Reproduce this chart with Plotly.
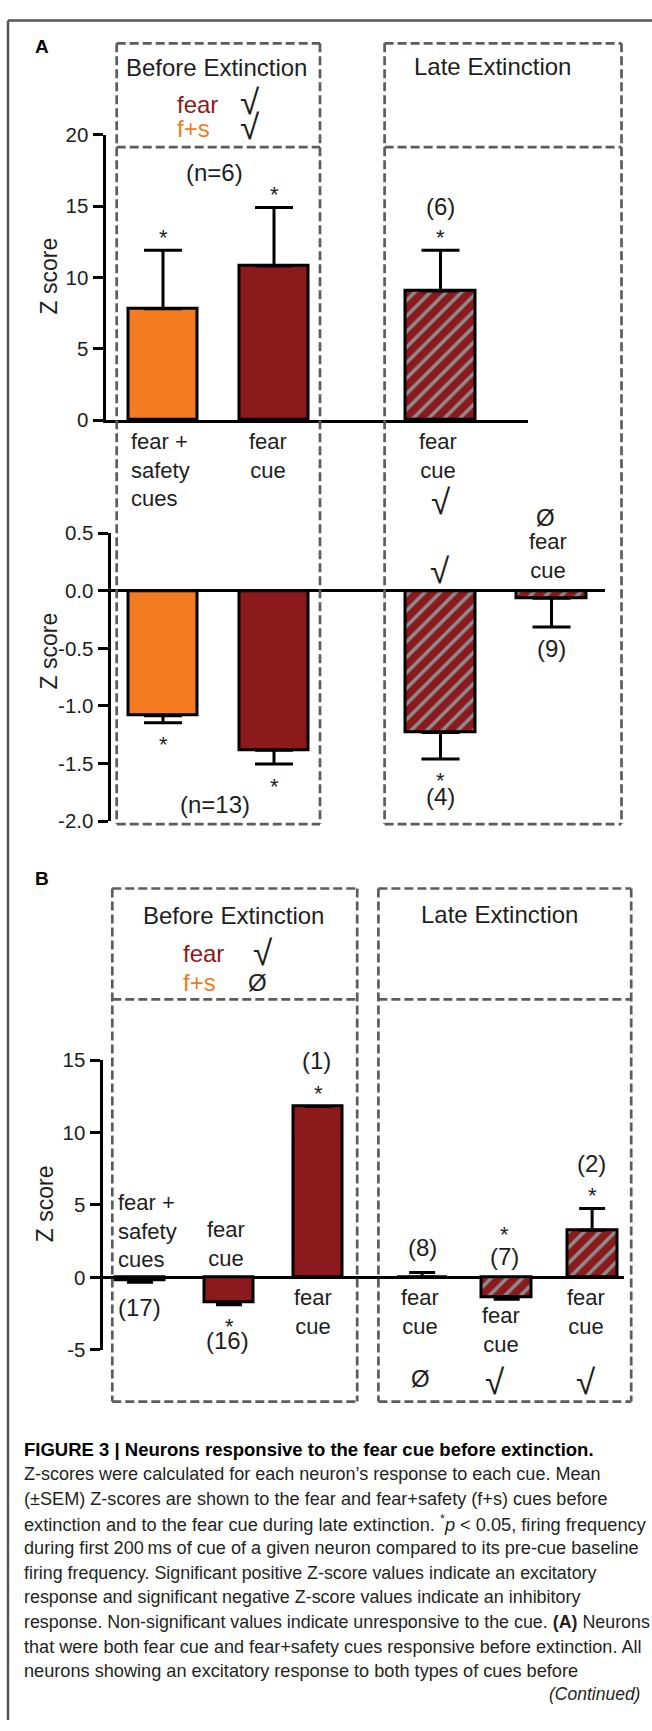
import re
import plotly.graph_objects as go

# ------------------------------------------------------------------ data
A_EXC_LABELS = ["fear +<br>safety<br>cues", "fear<br>cue", "fear<br>cue"]
A_EXC_Z = [7.8, 10.8, 9.05]
A_EXC_SEM = [4.1, 4.1, 2.85]
A_INH_Z = [-1.085, -1.385, -1.23, -0.065]
A_INH_SEM = [0.06, 0.12, 0.23, 0.25]
A_INH_SIG = [True, True, True, False]
B_LABELS = ["fear +<br>safety<br>cues", "fear<br>cue", "fear<br>cue",
            "fear<br>cue", "fear<br>cue", "fear<br>cue"]
B_Z = [-0.22, -1.75, 11.8, 0.03, -1.35, 3.25]
B_SEM = [0.12, 0.15, 0.0, 0.31, 0.17, 1.5]
B_N = ["(17)", "(16)", "(1)", "(8)", "(7)", "(2)"]
B_SIG = [False, True, True, False, True, True]
A_TOP_TICKS = [0, 5, 10, 15, 20]
A_BOT_TICKS = [0.5, 0.0, -0.5, -1.0, -1.5, -2.0]
B_TICKS = [-5, 0, 5, 10, 15]

CAPTION_TITLE = "<b>FIGURE 3 | Neurons responsive to the fear cue before extinction.</b>"
CAPTION = [
    "Z-scores were calculated for each neuron\u2019s response to each cue. Mean",
    "(\u00b1SEM) Z-scores are shown to the fear and fear+safety (f+s) cues before",
    "extinction and to the fear cue during late extinction. <sup>*</sup><i>p</i> &lt; 0.05, firing frequency",
    "during first 200\u2009ms of cue of a given neuron compared to its pre-cue baseline",
    "firing frequency. Significant positive Z-score values indicate an excitatory",
    "response and significant negative Z-score values indicate an inhibitory",
    "response. Non-significant values indicate unresponsive to the cue. <b>(A)</b> Neurons",
    "that were both fear cue and fear+safety cues responsive before extinction. All",
    "neurons showing an excitatory response to both types of cues before",
]
CAPTION_END = "<i>(Continued)</i>"

# ------------------------------------------------------------------ layout constants
W, H = 652, 1731
ORANGE = "#F47B20"
RED = "#8C1A1C"
HATCH = "#8c8c8c"
BOXC = "#5c5c5c"
TXT = "#1e1e1e"
FONT = "Liberation Sans, Arial, sans-serif"

A_TOP_POS = [1, 2, 3.5]
A_BOT_POS = [1, 2, 3.5, 4.5]
B_POS = [1, 2, 3, 4.17, 5.12, 6.08]
A_COLORS_TOP = [ORANGE, RED, RED]
A_HATCH_TOP = [False, False, True]
A_COLORS_BOT = [ORANGE, RED, RED, RED]
A_HATCH_BOT = [False, False, True, True]
B_COLORS = [ORANGE, RED, RED, RED, RED, RED]
B_HATCH = [False, False, False, True, True, True]

# pixel mapping of the category positions: px = off + k * pos
A_OFF, A_K = 52.0, 111.0
B_OFF, B_K = 51.0, 89.0

# caption line right edges (px) used to size each caption line
CAP_LEFT = 21.6
CAP_RIGHT = [598.8, 606.2, 643.7, 636.2, 595.4, 578.0, 646.6, 640.3, 575.9]

# Arial / Liberation Sans advance widths (1/1000 em)
_AW = {' ': 278, '(': 333, ')': 333, '*': 272, '+': 584, ',': 278, '-': 333,
       '.': 278, '<': 584, '|': 260, '\u00b1': 584, '\u2019': 222, '\u2009': 200}
for _c in "0123456789":
    _AW[_c] = 556
for _c, _w in zip("ABCDEFGHIJKLMNOPQRSTUVWXYZ",
                  [667, 667, 722, 722, 667, 611, 778, 722, 278, 500, 667, 556, 833,
                   722, 778, 667, 778, 722, 667, 611, 722, 667, 944, 667, 667, 611]):
    _AW[_c] = _w
for _c, _w in zip("abcdefghijklmnopqrstuvwxyz",
                  [556, 556, 500, 556, 556, 278, 556, 556, 222, 222, 500, 222, 833,
                   556, 556, 556, 556, 333, 500, 278, 556, 500, 722, 500, 500, 500]):
    _AW[_c] = _w


def em_width(s):
    plain = re.sub(r"<[^>]+>", "", s).replace("&lt;", "<")
    return sum(_AW.get(c, 556) for c in plain) / 1000.0


def X(px):
    return px / W


def Y(py):
    return 1 - py / H


def xr(d0, d1, off, k):
    return [(d0 - off) / k, (d1 - off) / k]


fig = go.Figure()


def bars(pos, vals, sems, colors, hatched, xa, ya, width, capw):
    for want_hatch in (False, True):
        idx = [i for i, h in enumerate(hatched) if h == want_hatch]
        if not idx:
            continue
        v = [vals[i] for i in idx]
        s = [sems[i] for i in idx]
        plus = [e if y >= 0 else 0 for y, e in zip(v, s)]
        minus = [e if y < 0 else 0 for y, e in zip(v, s)]
        if want_hatch:
            marker = dict(color=RED, line=dict(color="black", width=3),
                          pattern=dict(shape="/", fgcolor=HATCH, bgcolor=RED,
                                       fgopacity=1, size=11, solidity=0.32,
                                       fillmode="overlay"))
        else:
            marker = dict(color=[colors[i] for i in idx],
                          line=dict(color="black", width=3))
        fig.add_trace(go.Bar(
            x=[pos[i] for i in idx], y=v, width=width, xaxis=xa, yaxis=ya,
            marker=marker,
            error_y=dict(type="data", symmetric=False, array=plus, arrayminus=minus,
                         color="black", thickness=3, width=capw),
            showlegend=False, hoverinfo="skip"))


bars(A_TOP_POS, A_EXC_Z, A_EXC_SEM, A_COLORS_TOP, A_HATCH_TOP, "x", "y", 0.63, 19)
bars(A_BOT_POS, A_INH_Z, A_INH_SEM, A_COLORS_BOT, A_HATCH_BOT, "x2", "y2", 0.63, 19)
bars(B_POS, B_Z, B_SEM, B_COLORS, B_HATCH, "x3", "y3", 0.56, 13)

tickfont = dict(family=FONT, size=20.5, color=TXT)
yax_common = dict(showline=True, linewidth=3, linecolor="black", ticks="outside",
                  ticklen=10, tickwidth=3, tickcolor="black", showgrid=False,
                  tickfont=tickfont, fixedrange=True)
xax_common = dict(showgrid=False, showticklabels=False, ticks="", zeroline=False,
                  fixedrange=True)

fig.update_layout(
    width=W, height=H, margin=dict(l=0, r=0, t=0, b=0),
    paper_bgcolor="white", plot_bgcolor="rgba(0,0,0,0)",
    barmode="overlay", bargap=0, font=dict(family=FONT, color=TXT),
    xaxis=dict(domain=[X(105.5), X(528)], range=xr(105.5, 528, A_OFF, A_K),
               anchor="y", showline=True, linewidth=3, linecolor="black", **xax_common),
    yaxis=dict(domain=[Y(413.5), Y(124.5)], range=[0, 20], tickvals=A_TOP_TICKS,
               ticktext=[str(v) for v in A_TOP_TICKS],
               anchor="x", zeroline=False, **yax_common),
    xaxis2=dict(domain=[X(110.5), X(605)], range=xr(110.5, 605, A_OFF, A_K),
                anchor="y2", showline=False, **xax_common),
    yaxis2=dict(domain=[Y(820), Y(528.3)], range=[-2, 0.5], tickvals=A_BOT_TICKS,
                ticktext=[f"{v:.1f}" for v in A_BOT_TICKS],
                anchor="x2", zeroline=True, zerolinewidth=3,
                zerolinecolor="black", **yax_common),
    xaxis3=dict(domain=[X(102.5), X(623.7)], range=xr(102.5, 623.7, B_OFF, B_K),
                anchor="y3", showline=False, **xax_common),
    yaxis3=dict(domain=[Y(1355.7), Y(1062.3)], range=[-5, 15], tickvals=B_TICKS,
                ticktext=[str(v) for v in B_TICKS],
                anchor="x3", zeroline=True, zerolinewidth=3, zerolinecolor="black",
                **yax_common),
)

shapes = []


def line(x0, y0, x1, y1, color=BOXC, width=2.7, dash="9px,4px"):
    shapes.append(dict(type="line", xref="paper", yref="paper",
                       x0=X(x0), y0=Y(y0), x1=X(x1), y1=Y(y1),
                       line=dict(color=color, width=width, dash=dash)))


def dbox(l, r, t, mid, b):
    line(l, t, r, t)
    line(l, t, l, b)
    line(r, t, r, b)
    line(l, b, r, b)
    line(l, mid, r, mid)


# outer figure frame (left and top edges)
line(8, 8.5, 8, H, color="#555555", width=2.5, dash="solid")
line(8, 8.5, W, 8.5, color="#555555", width=2.5, dash="solid")
# dashed group boxes
dbox(116.7, 320, 31.7, 137, 823)
dbox(384.6, 621.5, 31.7, 137, 823)
dbox(112.3, 357.2, 888.3, 1000.7, 1408.3)
dbox(378.4, 631.2, 888.3, 1000.7, 1408.3)
fig.update_layout(shapes=shapes)

anns = []


def ann(text, px, py, size=22, color=TXT, xanchor="center", align="center",
        family=FONT, **kw):
    anns.append(dict(text=text, x=X(px), y=Y(py), xref="paper", yref="paper",
                     xanchor=xanchor, yanchor="middle", align=align, showarrow=False,
                     font=dict(family=family, size=size, color=color), **kw))


def check(px, py):
    ann("\u221a", px, py + 3, size=35)


def star(xa, ya, pos, val, sem, up):
    end = val + sem if up else val - sem
    anns.append(dict(text="*", x=pos, y=end, xref=xa, yref=ya, xanchor="center",
                     yanchor="middle", showarrow=False, yshift=13 if up else -22,
                     font=dict(family=FONT, size=22, color=TXT)))


# ---- panel A
ann("<b>A</b>", 41.6, 35, size=19, color="black")
ann("Before Extinction", 216.6, 56.7, size=24)
ann("Late Extinction", 492.7, 55, size=24)
ann("fear", 197.5, 93.3, size=24, color=RED)
ann("f+s", 193.4, 118, size=24, color=ORANGE)
check(250, 88)
check(250, 113)
ann("Z score", 49, 268, size=23, textangle=-90)
ann("Z score", 49, 648, size=23, textangle=-90)
ann("(n=6)", 214, 163, size=24)
ann("(6)", 440.7, 197, size=24)
ann(A_EXC_LABELS[0], 129, 464, size=22, xanchor="left", align="left")
ann(A_EXC_LABELS[1], 268, 450, size=22)
ann(A_EXC_LABELS[2], 438.5, 450, size=22)
check(441, 493)
check(440, 563)
ann("\u00d8", 545, 512.7, size=24)
ann("fear<br>cue", 548, 551.7, size=22)
ann("(9)", 551, 645, size=24)
ann("(4)", 440.7, 795, size=24)
ann("(n=13)", 215, 803, size=24)
for p, v, s in zip(A_TOP_POS, A_EXC_Z, A_EXC_SEM):
    star("x", "y", p, v, s, True)
for p, v, s, sig in zip(A_BOT_POS, A_INH_Z, A_INH_SEM, A_INH_SIG):
    if sig:
        star("x2", "y2", p, v, s, False)

# ---- panel B
ann("<b>B</b>", 41.6, 878.3, size=19, color="black")
ann("Before Extinction", 233.7, 916, size=24)
ann("Late Extinction", 499, 914.3, size=24)
ann("fear", 203.8, 954.3, size=24, color=RED)
ann("f+s", 199, 984, size=24, color=ORANGE)
check(263, 950)
ann("\u00d8", 257.8, 984, size=24)
ann("Z score", 45, 1208.3, size=23, textangle=-90)
ann(B_LABELS[0], 115.6, 1235.5, size=22, xanchor="left", align="left")
ann(B_LABELS[1], 226, 1248.3, size=22)
ann(B_LABELS[2], 313, 1317.5, size=22)
ann(B_LABELS[3], 420, 1317.5, size=22)
ann(B_LABELS[4], 501, 1336, size=22)
ann(B_LABELS[5], 586.3, 1317.5, size=22)
ann(B_N[0], 139.3, 1313.3, size=24)
ann(B_N[1], 227.9, 1346.7, size=24)
ann(B_N[2], 316.8, 1062.3, size=24)
ann(B_N[3], 422, 1251.7, size=24)
ann(B_N[4], 504.4, 1261.7, size=24)
ann(B_N[5], 591.7, 1166.7, size=24)
ann("*", 504.4, 1239, size=22)
ann("\u00d8", 420.8, 1385, size=24)
check(494.8, 1385)
check(586.3, 1385)
for i, (p, v, s, sig) in enumerate(zip(B_POS, B_Z, B_SEM, B_SIG)):
    if sig and i != 4:
        star("x3", "y3", p, v, s, v >= 0)

# ---- caption
ann(CAPTION_TITLE, CAP_LEFT, 1456.7, size=18.5, color="black",
    xanchor="left", align="left")
for i, t in enumerate(CAPTION):
    sz = (CAP_RIGHT[i] - CAP_LEFT) / em_width(t)
    sz = max(16.8, min(18.8, sz))
    ann(t, CAP_LEFT, 1481.7 + 25 * i, size=round(sz, 2), color="#231f20",
        xanchor="left", align="left")
ann(CAPTION_END, 642.4, 1705, size=17.5, color="#231f20",
    xanchor="right", align="right")

fig.update_layout(annotations=anns)

fig.write_html("out.html", config={"displayModeBar": False},
               post_script="document.body.style.margin='0';")
